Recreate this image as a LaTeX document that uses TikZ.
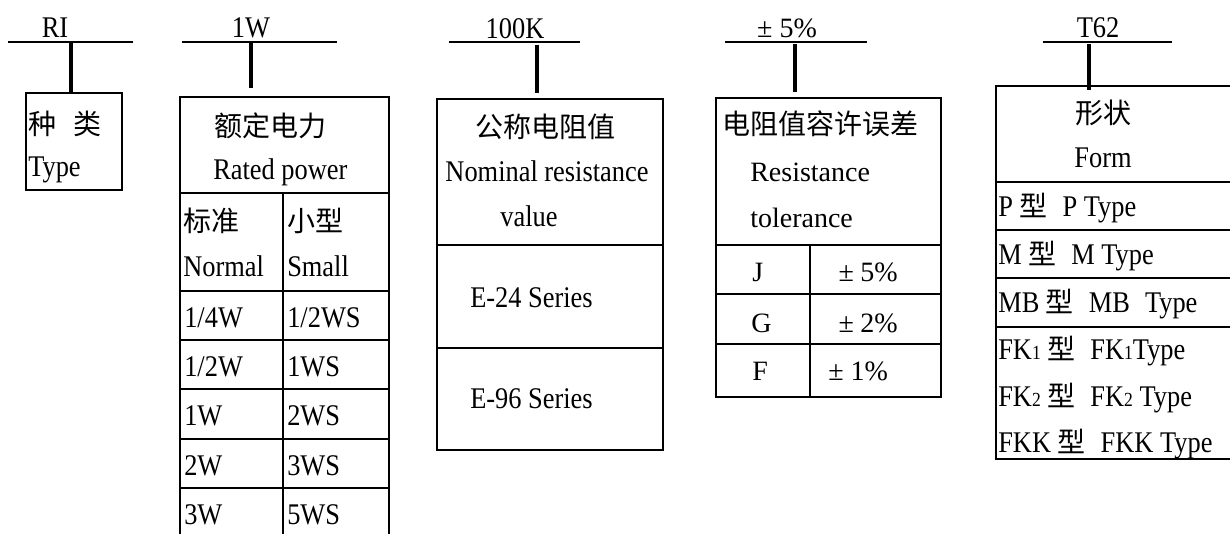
\documentclass[tikz,border=0pt]{standalone}
\usepackage{fontspec}
\setmainfont{Liberation Serif}[FakeStretch=0.88]
\newfontfamily\timesfont{Liberation Serif}
\newfontfamily\cjkfont{Noto Sans CJK SC}
\newcommand\zh[1]{{\cjkfont\fontsize{21}{24}\selectfont #1}}
\newcommand\sm[1]{{\fontsize{15}{15}\selectfont #1}}
\newcommand\pmw{\makebox[1.0em][c]{±}}
\begin{document}
\begin{tikzpicture}[x=0.75pt,y=-0.75pt,
  txt/.style={inner sep=0pt, anchor=base west, font=\fontsize{22.5}{26}\selectfont},
  ctr/.style={txt, anchor=base},
  tms/.style={txt, font=\timesfont\fontsize{21}{24}\selectfont},
  tmsc/.style={tms, anchor=base},
  frame/.style={line width=1pt, line cap=rect},
  stem/.style={line width=2.3pt},
  rule/.style={line width=1.1pt}]
\useasboundingbox (0,0) rectangle (1230,534);

% ---------- column 1 : RI ----------
\node[ctr] (l1) at (55,38) {RI};
\draw[rule] (8,42) -- (133,42);
\coordinate (r1) at (71,43);
\coordinate (b1) at (71,93);
\draw[stem] (r1) -- (b1);
\draw[frame] (26,93) rectangle (122,190);
\node[txt] (c1a) at (28,135) {\zh{种\hspace{0.6em}类}};
\node[txt] (c1b) at (28,177) {Type};

% ---------- column 2 : 1W ----------
\node[ctr] (l2) at (251,38) {1W};
\draw[rule] (182,42) -- (337,42);
\coordinate (r2) at (251,41);
\coordinate (b2) at (251,88);
\draw[stem] (r2) -- (b2);
\draw[frame] (180,540) -- (180,97) -- (389,97) -- (389,540);
\draw[frame] (180,193) -- (389,193);
\draw[frame] (283,193) -- (283,540);
\foreach \yy in {291,340,389,439,488} \draw[frame] (180,\yy) -- (389,\yy);
\node[txt] (c2a) at (214,137) {\zh{额定电力}};
\node[txt] (c2b) at (213,180) {Rated power};
\node[txt] (c2n1) at (183,232) {\zh{标准}};
\node[txt] (c2s1) at (287,232) {\zh{小型}};
\node[txt] (c2n2) at (183,277) {Normal};
\node[txt] (c2s2) at (287,277) {Small};
\node[txt] (c2n3) at (184,327) {1/4W};
\node[txt] (c2s3) at (287,327) {1/2WS};
\node[txt] (c2n4) at (184,376) {1/2W};
\node[txt] (c2s4) at (287,376) {1WS};
\node[txt] (c2n5) at (184,425) {1W};
\node[txt] (c2s5) at (287,425) {2WS};
\node[txt] (c2n6) at (184,475) {2W};
\node[txt] (c2s6) at (287,475) {3WS};
\node[txt] (c2n7) at (184,524) {3W};
\node[txt] (c2s7) at (287,524) {5WS};

% ---------- column 3 : 100K ----------
\node[ctr] (l3) at (515,39) {100K};
\draw[rule] (449,42) -- (580,42);
\coordinate (r3) at (537,45);
\coordinate (b3) at (537,93);
\draw[stem] (r3) -- (b3);
\draw[frame] (437,99) rectangle (663,450);
\draw[frame] (437,245) -- (663,245);
\draw[frame] (437,348) -- (663,348);
\node[ctr] (c3a) at (545,138) {\zh{公称电阻值}};
\node[ctr] (c3b) at (547,182) {Nominal resistance};
\node[ctr] (c3c) at (529,227) {value};
\node[txt] (c3d) at (470,307) {E-24 Series};
\node[txt] (c3e) at (470,408) {E-96 Series};

% ---------- column 4 : ±5% ----------
\node[tmsc] (l4) at (787,38) {± 5\%};
\draw[rule] (725,42) -- (867,42);
\coordinate (r4) at (795,44);
\coordinate (b4) at (795,92);
\draw[stem] (r4) -- (b4);
\draw[frame] (716,98) rectangle (941,397);
\draw[frame] (716,245) -- (941,245);
\draw[frame] (716,294) -- (941,294);
\draw[frame] (716,344) -- (941,344);
\draw[frame] (810,245) -- (810,397);
\node[txt] (c4a) at (722,135) {\zh{电阻值容许误差}};
\node[tms] (c4b) at (750,182) {Resistance};
\node[tms] (c4c) at (750,228) {tolerance};
\node[tms] (c4j) at (752,282) {J};
\node[tms] (c4g) at (751,332) {G};
\node[tms] (c4f) at (752,380) {F};
\node[tms] (c4j2) at (832,282) {\pmw5\%};
\node[tms] (c4g2) at (832,332) {\pmw2\%};
\node[tms] (c4f2) at (828,380) {± 1\%};

% ---------- column 5 : T62 ----------
\node[ctr] (l5) at (1098,38) {T62};
\draw[rule] (1043,42) -- (1172,42);
\coordinate (r5) at (1089,44);
\coordinate (b5) at (1089,90);
\draw[stem] (r5) -- (b5);
\draw[frame] (1232,86) -- (996,86) -- (996,459) -- (1232,459);
\foreach \yy in {182,230,278,327} \draw[frame] (996,\yy) -- (1232,\yy);
\node[ctr] (c5a) at (1103,124) {\zh{形状}};
\node[ctr] (c5b) at (1103,168) {Form};
\node[txt] (c5p) at (998,217) {P \zh{型}\hspace{0.5em}P Type};
\node[txt] (c5m) at (998,265) {M \zh{型}\hspace{0.5em}M Type};
\node[txt] (c5mb) at (998,313) {MB \zh{型}\hspace{0.5em}MB\hspace{0.5em}Type};
\node[txt] (c5f1) at (998,359) {FK\sm{1} \zh{型}\hspace{0.5em}FK\sm{1}Type};
\node[txt] (c5f2) at (998,406) {FK\sm{2} \zh{型}\hspace{0.5em}FK\sm{2} Type};
\node[txt] (c5fk) at (998,452) {FKK \zh{型}\hspace{0.5em}FKK Type};
\end{tikzpicture}
\end{document}
